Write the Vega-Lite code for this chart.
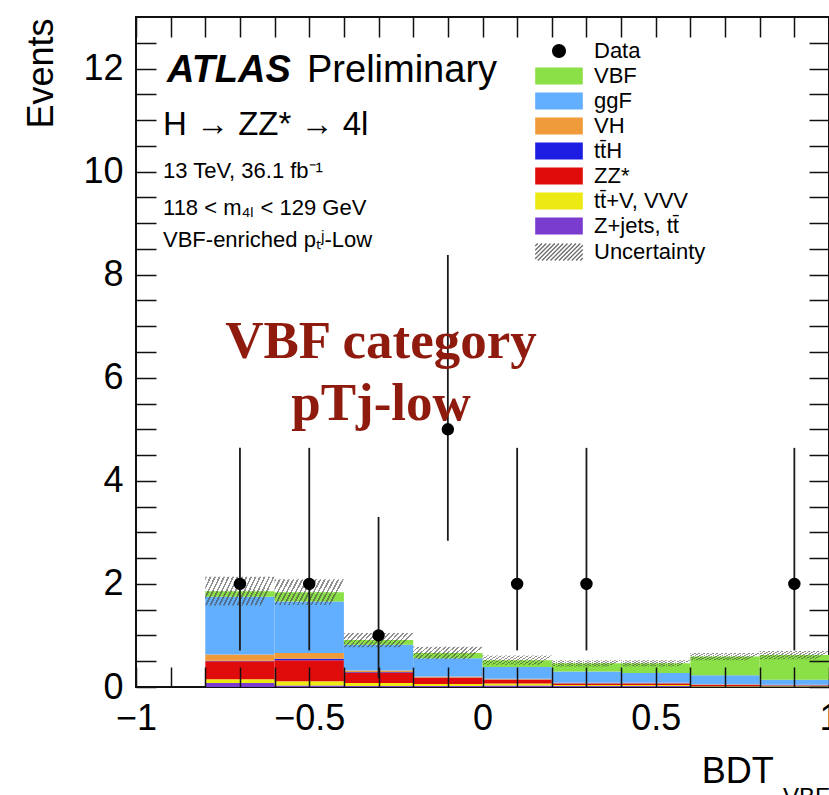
{
  "$schema": "https://vega.github.io/schema/vega-lite/v6.json",
  "width": 693,
  "height": 670,
  "autosize": {"type": "none"},
  "padding": {"left": 136, "top": 17, "right": 0, "bottom": 108},
  "background": "white",
  "config": {
    "font": "Liberation Sans",
    "view": {"stroke": "#111", "strokeWidth": 2},
    "axis": {"labelFont": "Liberation Sans", "titleFont": "Liberation Sans", "labelColor": "#000", "titleColor": "#000", "tickColor": "#111", "tickWidth": 1.5, "domain": false, "grid": false}
  },
  "resolve": {"axis": {"x": "independent", "y": "independent"}},
  "layer": [
    {
      "data": {"values": [
        {"bin_lo": -0.8, "bin_hi": -0.6, "process": "Z+jets, tt\u0304", "events": 0.08},
        {"bin_lo": -0.8, "bin_hi": -0.6, "process": "tt\u0304+V, VVV", "events": 0.07},
        {"bin_lo": -0.8, "bin_hi": -0.6, "process": "ZZ*", "events": 0.35},
        {"bin_lo": -0.8, "bin_hi": -0.6, "process": "tt\u0304H", "events": 0.01},
        {"bin_lo": -0.8, "bin_hi": -0.6, "process": "VH", "events": 0.12},
        {"bin_lo": -0.8, "bin_hi": -0.6, "process": "ggF", "events": 1.12},
        {"bin_lo": -0.8, "bin_hi": -0.6, "process": "VBF", "events": 0.11},
        {"bin_lo": -0.6, "bin_hi": -0.4, "process": "Z+jets, tt\u0304", "events": 0.03},
        {"bin_lo": -0.6, "bin_hi": -0.4, "process": "tt\u0304+V, VVV", "events": 0.08},
        {"bin_lo": -0.6, "bin_hi": -0.4, "process": "ZZ*", "events": 0.41},
        {"bin_lo": -0.6, "bin_hi": -0.4, "process": "tt\u0304H", "events": 0.03},
        {"bin_lo": -0.6, "bin_hi": -0.4, "process": "VH", "events": 0.11},
        {"bin_lo": -0.6, "bin_hi": -0.4, "process": "ggF", "events": 1.0},
        {"bin_lo": -0.6, "bin_hi": -0.4, "process": "VBF", "events": 0.18},
        {"bin_lo": -0.4, "bin_hi": -0.2, "process": "Z+jets, tt\u0304", "events": 0.02},
        {"bin_lo": -0.4, "bin_hi": -0.2, "process": "tt\u0304+V, VVV", "events": 0.06},
        {"bin_lo": -0.4, "bin_hi": -0.2, "process": "ZZ*", "events": 0.2},
        {"bin_lo": -0.4, "bin_hi": -0.2, "process": "tt\u0304H", "events": 0.01},
        {"bin_lo": -0.4, "bin_hi": -0.2, "process": "VH", "events": 0.03},
        {"bin_lo": -0.4, "bin_hi": -0.2, "process": "ggF", "events": 0.5},
        {"bin_lo": -0.4, "bin_hi": -0.2, "process": "VBF", "events": 0.09},
        {"bin_lo": -0.2, "bin_hi": 0.0, "process": "Z+jets, tt\u0304", "events": 0.02},
        {"bin_lo": -0.2, "bin_hi": 0.0, "process": "tt\u0304+V, VVV", "events": 0.04},
        {"bin_lo": -0.2, "bin_hi": 0.0, "process": "ZZ*", "events": 0.12},
        {"bin_lo": -0.2, "bin_hi": 0.0, "process": "tt\u0304H", "events": 0.005},
        {"bin_lo": -0.2, "bin_hi": 0.0, "process": "VH", "events": 0.02},
        {"bin_lo": -0.2, "bin_hi": 0.0, "process": "ggF", "events": 0.355},
        {"bin_lo": -0.2, "bin_hi": 0.0, "process": "VBF", "events": 0.1},
        {"bin_lo": 0.0, "bin_hi": 0.2, "process": "Z+jets, tt\u0304", "events": 0.03},
        {"bin_lo": 0.0, "bin_hi": 0.2, "process": "tt\u0304+V, VVV", "events": 0.04},
        {"bin_lo": 0.0, "bin_hi": 0.2, "process": "ZZ*", "events": 0.07},
        {"bin_lo": 0.0, "bin_hi": 0.2, "process": "tt\u0304H", "events": 0.005},
        {"bin_lo": 0.0, "bin_hi": 0.2, "process": "VH", "events": 0.015},
        {"bin_lo": 0.0, "bin_hi": 0.2, "process": "ggF", "events": 0.23},
        {"bin_lo": 0.0, "bin_hi": 0.2, "process": "VBF", "events": 0.13},
        {"bin_lo": 0.2, "bin_hi": 0.4, "process": "Z+jets, tt\u0304", "events": 0.02},
        {"bin_lo": 0.2, "bin_hi": 0.4, "process": "tt\u0304+V, VVV", "events": 0.02},
        {"bin_lo": 0.2, "bin_hi": 0.4, "process": "ZZ*", "events": 0.03},
        {"bin_lo": 0.2, "bin_hi": 0.4, "process": "tt\u0304H", "events": 0.003},
        {"bin_lo": 0.2, "bin_hi": 0.4, "process": "VH", "events": 0.01},
        {"bin_lo": 0.2, "bin_hi": 0.4, "process": "ggF", "events": 0.217},
        {"bin_lo": 0.2, "bin_hi": 0.4, "process": "VBF", "events": 0.16},
        {"bin_lo": 0.4, "bin_hi": 0.6, "process": "Z+jets, tt\u0304", "events": 0.02},
        {"bin_lo": 0.4, "bin_hi": 0.6, "process": "tt\u0304+V, VVV", "events": 0.02},
        {"bin_lo": 0.4, "bin_hi": 0.6, "process": "ZZ*", "events": 0.03},
        {"bin_lo": 0.4, "bin_hi": 0.6, "process": "tt\u0304H", "events": 0.002},
        {"bin_lo": 0.4, "bin_hi": 0.6, "process": "VH", "events": 0.01},
        {"bin_lo": 0.4, "bin_hi": 0.6, "process": "ggF", "events": 0.188},
        {"bin_lo": 0.4, "bin_hi": 0.6, "process": "VBF", "events": 0.19},
        {"bin_lo": 0.6, "bin_hi": 0.8, "process": "Z+jets, tt\u0304", "events": 0.01},
        {"bin_lo": 0.6, "bin_hi": 0.8, "process": "tt\u0304+V, VVV", "events": 0.01},
        {"bin_lo": 0.6, "bin_hi": 0.8, "process": "ZZ*", "events": 0.02},
        {"bin_lo": 0.6, "bin_hi": 0.8, "process": "tt\u0304H", "events": 0.002},
        {"bin_lo": 0.6, "bin_hi": 0.8, "process": "VH", "events": 0.01},
        {"bin_lo": 0.6, "bin_hi": 0.8, "process": "ggF", "events": 0.178},
        {"bin_lo": 0.6, "bin_hi": 0.8, "process": "VBF", "events": 0.36},
        {"bin_lo": 0.8, "bin_hi": 1.0, "process": "Z+jets, tt\u0304", "events": 0.01},
        {"bin_lo": 0.8, "bin_hi": 1.0, "process": "tt\u0304+V, VVV", "events": 0.01},
        {"bin_lo": 0.8, "bin_hi": 1.0, "process": "ZZ*", "events": 0.01},
        {"bin_lo": 0.8, "bin_hi": 1.0, "process": "tt\u0304H", "events": 0.002},
        {"bin_lo": 0.8, "bin_hi": 1.0, "process": "VH", "events": 0.01},
        {"bin_lo": 0.8, "bin_hi": 1.0, "process": "ggF", "events": 0.098},
        {"bin_lo": 0.8, "bin_hi": 1.0, "process": "VBF", "events": 0.48}
      ]},
      "transform": [{"stack": "events", "groupby": ["bin_lo"], "as": ["y0", "y1"]}],
      "mark": {"type": "rect"},
      "encoding": {
        "x": {"field": "bin_lo", "type": "quantitative", "scale": {"domain": [-1, 1], "nice": false, "zero": false},
              "axis": {"orient": "bottom", "values": [-1, -0.5, 0, 0.5, 1], "format": "~g", "ticks": false,
                       "labelFontSize": 36, "labelPadding": 14, "labelFlush": false, "labelOverlap": false, "labelBound": false, "title": null}},
        "x2": {"field": "bin_hi"},
        "y": {"field": "y0", "type": "quantitative", "scale": {"domain": [0, 13], "nice": false},
              "axis": {"orient": "left", "values": [0, 2, 4, 6, 8, 10, 12], "format": "d", "ticks": false,
                       "labelFontSize": 36, "labelPadding": 13, "labelOverlap": false, "labelFlush": false,
                       "title": "Events", "titleFontSize": 36, "titleFontWeight": "normal", "titleAngle": 270, "titleAlign": "right", "titleBaseline": "alphabetic", "titleX": -84, "titleY": 1}},
        "y2": {"field": "y1"},
        "color": {"field": "process", "type": "nominal",
          "scale": {"domain": ["Data", "VBF", "ggF", "VH", "tt\u0304H", "ZZ*", "tt\u0304+V, VVV", "Z+jets, tt\u0304", "Uncertainty"],
                    "range": ["#000000", "#8AE046", "#62AEFF", "#F09B3A", "#1C1CE2", "#E00B0B", "#EDEA13", "#7A3BCF", "#ffffff"]},
          "legend": {"orient": "none", "legendX": 412, "legendY": 23, "title": null, "padding": 0,
                     "symbolSize": 289, "symbolType": "M-2.8,-1H2.8V1H-2.8Z", "symbolStrokeWidth": 0, "symbolOpacity": 1,
                     "labelFont": "Liberation Sans", "labelFontSize": 22, "labelColor": "#000", "labelOffset": 24, "labelLimit": 300, "rowPadding": 3,
                     "encode": {"symbols": {"update": {
                       "shape": {"signal": "datum.value === 'Data' ? 'M-0.82,0A0.82,0.82 0 1,1 0.82,0A0.82,0.82 0 1,1 -0.82,0Z' : datum.value === 'Uncertainty' ? 'M-2.8,-0.7L-2.5,-1M-2.8,-0.2L-2,-1M-2.8,0.3L-1.5,-1M-2.8,0.8L-1,-1M-2.5,1L-0.5,-1M-2,1L0,-1M-1.5,1L0.5,-1M-1,1L1,-1M-0.5,1L1.5,-1M0,1L2,-1M0.5,1L2.5,-1M1,1L2.8,-0.8M1.5,1L2.8,-0.3M2,1L2.8,0.2M2.5,1L2.8,0.7' : 'M-2.8,-1H2.8V1H-2.8Z'"},
                       "stroke": {"signal": "datum.value === 'Uncertainty' ? '#6a6a6a' : 'transparent'"},
                       "strokeWidth": {"signal": "datum.value === 'Uncertainty' ? 1.3 : 0"}
                     }}}}
        }
      }
    },
    {
      "data": {"values": [
        {"bin_lo": -0.8, "bin_hi": -0.6, "band_lo": 1.58, "band_hi": 2.14},
        {"bin_lo": -0.6, "bin_hi": -0.4, "band_lo": 1.59, "band_hi": 2.09},
        {"bin_lo": -0.4, "bin_hi": -0.2, "band_lo": 0.77, "band_hi": 1.05},
        {"bin_lo": -0.2, "bin_hi": 0.0, "band_lo": 0.54, "band_hi": 0.78},
        {"bin_lo": 0.0, "bin_hi": 0.2, "band_lo": 0.43, "band_hi": 0.61},
        {"bin_lo": 0.2, "bin_hi": 0.4, "band_lo": 0.40, "band_hi": 0.52},
        {"bin_lo": 0.4, "bin_hi": 0.6, "band_lo": 0.40, "band_hi": 0.52},
        {"bin_lo": 0.6, "bin_hi": 0.8, "band_lo": 0.52, "band_hi": 0.66},
        {"bin_lo": 0.8, "bin_hi": 1.0, "band_lo": 0.54, "band_hi": 0.70}
      ]},
      "mark": {"type": "rect", "fill": {"gradient": "linear", "x1": 0, "y1": 0, "x2": 1, "y2": 0.2, "stops": [
        {"offset": 0, "color": "rgba(70,70,70,0.6)"}, {"offset": 0.025, "color": "rgba(70,70,70,0.6)"}, {"offset": 0.025, "color": "rgba(0,0,0,0)"}, {"offset": 0.0625, "color": "rgba(0,0,0,0)"},
        {"offset": 0.0625, "color": "rgba(70,70,70,0.6)"}, {"offset": 0.0875, "color": "rgba(70,70,70,0.6)"}, {"offset": 0.0875, "color": "rgba(0,0,0,0)"}, {"offset": 0.125, "color": "rgba(0,0,0,0)"},
        {"offset": 0.125, "color": "rgba(70,70,70,0.6)"}, {"offset": 0.15, "color": "rgba(70,70,70,0.6)"}, {"offset": 0.15, "color": "rgba(0,0,0,0)"}, {"offset": 0.1875, "color": "rgba(0,0,0,0)"},
        {"offset": 0.1875, "color": "rgba(70,70,70,0.6)"}, {"offset": 0.2125, "color": "rgba(70,70,70,0.6)"}, {"offset": 0.2125, "color": "rgba(0,0,0,0)"}, {"offset": 0.25, "color": "rgba(0,0,0,0)"},
        {"offset": 0.25, "color": "rgba(70,70,70,0.6)"}, {"offset": 0.275, "color": "rgba(70,70,70,0.6)"}, {"offset": 0.275, "color": "rgba(0,0,0,0)"}, {"offset": 0.3125, "color": "rgba(0,0,0,0)"},
        {"offset": 0.3125, "color": "rgba(70,70,70,0.6)"}, {"offset": 0.3375, "color": "rgba(70,70,70,0.6)"}, {"offset": 0.3375, "color": "rgba(0,0,0,0)"}, {"offset": 0.375, "color": "rgba(0,0,0,0)"},
        {"offset": 0.375, "color": "rgba(70,70,70,0.6)"}, {"offset": 0.4, "color": "rgba(70,70,70,0.6)"}, {"offset": 0.4, "color": "rgba(0,0,0,0)"}, {"offset": 0.4375, "color": "rgba(0,0,0,0)"},
        {"offset": 0.4375, "color": "rgba(70,70,70,0.6)"}, {"offset": 0.4625, "color": "rgba(70,70,70,0.6)"}, {"offset": 0.4625, "color": "rgba(0,0,0,0)"}, {"offset": 0.5, "color": "rgba(0,0,0,0)"},
        {"offset": 0.5, "color": "rgba(70,70,70,0.6)"}, {"offset": 0.525, "color": "rgba(70,70,70,0.6)"}, {"offset": 0.525, "color": "rgba(0,0,0,0)"}, {"offset": 0.5625, "color": "rgba(0,0,0,0)"},
        {"offset": 0.5625, "color": "rgba(70,70,70,0.6)"}, {"offset": 0.5875, "color": "rgba(70,70,70,0.6)"}, {"offset": 0.5875, "color": "rgba(0,0,0,0)"}, {"offset": 0.625, "color": "rgba(0,0,0,0)"},
        {"offset": 0.625, "color": "rgba(70,70,70,0.6)"}, {"offset": 0.65, "color": "rgba(70,70,70,0.6)"}, {"offset": 0.65, "color": "rgba(0,0,0,0)"}, {"offset": 0.6875, "color": "rgba(0,0,0,0)"},
        {"offset": 0.6875, "color": "rgba(70,70,70,0.6)"}, {"offset": 0.7125, "color": "rgba(70,70,70,0.6)"}, {"offset": 0.7125, "color": "rgba(0,0,0,0)"}, {"offset": 0.75, "color": "rgba(0,0,0,0)"},
        {"offset": 0.75, "color": "rgba(70,70,70,0.6)"}, {"offset": 0.775, "color": "rgba(70,70,70,0.6)"}, {"offset": 0.775, "color": "rgba(0,0,0,0)"}, {"offset": 0.8125, "color": "rgba(0,0,0,0)"},
        {"offset": 0.8125, "color": "rgba(70,70,70,0.6)"}, {"offset": 0.8375, "color": "rgba(70,70,70,0.6)"}, {"offset": 0.8375, "color": "rgba(0,0,0,0)"}, {"offset": 0.875, "color": "rgba(0,0,0,0)"},
        {"offset": 0.875, "color": "rgba(70,70,70,0.6)"}, {"offset": 0.9, "color": "rgba(70,70,70,0.6)"}, {"offset": 0.9, "color": "rgba(0,0,0,0)"}, {"offset": 0.9375, "color": "rgba(0,0,0,0)"},
        {"offset": 0.9375, "color": "rgba(70,70,70,0.6)"}, {"offset": 0.9625, "color": "rgba(70,70,70,0.6)"}, {"offset": 0.9625, "color": "rgba(0,0,0,0)"}, {"offset": 1, "color": "rgba(0,0,0,0)"}
      ]}},
      "encoding": {
        "x": {"field": "bin_lo", "type": "quantitative", "scale": {"domain": [-1, 1], "nice": false, "zero": false}, "axis": null},
        "x2": {"field": "bin_hi"},
        "y": {"field": "band_lo", "type": "quantitative", "scale": {"domain": [0, 13], "nice": false},
              "axis": {"orient": "right", "values": [0, 0.5, 1, 1.5, 2, 2.5, 3, 3.5, 4, 4.5, 5, 5.5, 6, 6.5, 7, 7.5, 8, 8.5, 9, 9.5, 10, 10.5, 11, 11.5, 12, 12.5],
                       "ticks": true, "tickSize": 20, "offset": -693, "zindex": 1, "labels": false, "title": null,
                       "encoding": {"ticks": {"update": {"x2": {"signal": "datum.value % 2 === 0 ? 20 : 10"}}}}}},
        "y2": {"field": "band_hi"}
      }
    },
    {
      "data": {"name": "obs", "values": [
        {"bdt": -0.7, "events": 2, "err_lo": 0.71, "err_hi": 4.64},
        {"bdt": -0.5, "events": 2, "err_lo": 0.71, "err_hi": 4.64},
        {"bdt": -0.3, "events": 1, "err_lo": 0.17, "err_hi": 3.30},
        {"bdt": -0.1, "events": 5, "err_lo": 2.84, "err_hi": 8.38},
        {"bdt": 0.1, "events": 2, "err_lo": 0.71, "err_hi": 4.64},
        {"bdt": 0.3, "events": 2, "err_lo": 0.71, "err_hi": 4.64},
        {"bdt": 0.9, "events": 2, "err_lo": 0.71, "err_hi": 4.64}
      ]},
      "mark": {"type": "rule", "color": "#1a1a1a", "strokeWidth": 1.8},
      "encoding": {
        "x": {"field": "bdt", "type": "quantitative", "scale": {"domain": [-1, 1], "nice": false, "zero": false}, "axis": null},
        "y": {"field": "err_lo", "type": "quantitative", "scale": {"domain": [0, 13], "nice": false}, "axis": null},
        "y2": {"field": "err_hi"}
      }
    },
    {
      "data": {"name": "obs"},
      "mark": {"type": "circle", "color": "#000", "opacity": 1, "size": 154},
      "encoding": {
        "x": {"field": "bdt", "type": "quantitative", "scale": {"domain": [-1, 1], "nice": false, "zero": false},
              "axis": {"orient": "bottom", "values": [-1, -0.9, -0.8, -0.7, -0.6, -0.5, -0.4, -0.3, -0.2, -0.1, 0, 0.1, 0.2, 0.3, 0.4, 0.5, 0.6, 0.7, 0.8, 0.9, 1],
                       "ticks": true, "tickSize": 20, "offset": -670, "zindex": 1, "labels": false, "title": null,
                       "encoding": {"ticks": {"update": {"y2": {"signal": "abs(datum.value*2 - round(datum.value*2)) < 0.001 ? 20 : 10"}}}}}},
        "y": {"field": "events", "type": "quantitative", "scale": {"domain": [0, 13], "nice": false},
              "axis": {"orient": "right", "values": [0, 0.5, 1, 1.5, 2, 2.5, 3, 3.5, 4, 4.5, 5, 5.5, 6, 6.5, 7, 7.5, 8, 8.5, 9, 9.5, 10, 10.5, 11, 11.5, 12, 12.5],
                       "ticks": true, "tickSize": 20, "offset": -20, "zindex": 1, "labels": false, "title": null,
                       "encoding": {"ticks": {"update": {"x": {"signal": "datum.value % 2 === 0 ? 0 : 10"}}}}}}
      }
    },
    {
      "data": {"values": [{"x": -0.9105, "y": 11.74, "label": "ATLAS"}]},
      "mark": {"type": "text", "align": "left", "baseline": "alphabetic", "font": "Liberation Sans", "fontSize": 38, "fontStyle": "italic", "fontWeight": "bold", "color": "#000"},
      "encoding": {
        "x": {"field": "x", "type": "quantitative", "scale": {"domain": [-1, 1], "nice": false, "zero": false}, "axis": null},
        "y": {"field": "y", "type": "quantitative", "scale": {"domain": [0, 13], "nice": false}, "axis": null},
        "text": {"field": "label"}
      }
    },
    {
      "data": {"values": [{"x": -0.5065, "y": 11.74, "label": "Preliminary"}]},
      "mark": {"type": "text", "align": "left", "baseline": "alphabetic", "font": "Liberation Sans", "fontSize": 38, "color": "#000"},
      "encoding": {
        "x": {"field": "x", "type": "quantitative", "scale": {"domain": [-1, 1], "nice": false, "zero": false}, "axis": null},
        "y": {"field": "y", "type": "quantitative", "scale": {"domain": [0, 13], "nice": false}, "axis": null},
        "text": {"field": "label"}
      }
    },
    {
      "data": {"values": [{"x": -0.922, "y": 10.71, "label": "H \u2192 ZZ* \u2192 4l"}]},
      "mark": {"type": "text", "align": "left", "baseline": "alphabetic", "font": "Liberation Sans", "fontSize": 33, "color": "#000"},
      "encoding": {
        "x": {"field": "x", "type": "quantitative", "scale": {"domain": [-1, 1], "nice": false, "zero": false}, "axis": null},
        "y": {"field": "y", "type": "quantitative", "scale": {"domain": [0, 13], "nice": false}, "axis": null},
        "text": {"field": "label"}
      }
    },
    {
      "data": {"values": [
        {"x": -0.922, "y": 9.88, "label": "13 TeV, 36.1 fb\u207b\u00b9"},
        {"x": -0.922, "y": 9.16, "label": "118 < m\u2084\u2097 < 129 GeV"},
        {"x": -0.922, "y": 8.54, "label": "VBF-enriched p\u209c\u02b2-Low"}
      ]},
      "mark": {"type": "text", "align": "left", "baseline": "alphabetic", "font": "Liberation Sans", "fontSize": 22, "color": "#000"},
      "encoding": {
        "x": {"field": "x", "type": "quantitative", "scale": {"domain": [-1, 1], "nice": false, "zero": false}, "axis": null},
        "y": {"field": "y", "type": "quantitative", "scale": {"domain": [0, 13], "nice": false}, "axis": null},
        "text": {"field": "label"}
      }
    },
    {
      "data": {"values": [
        {"x": -0.293, "y": 6.38, "label": "VBF category"},
        {"x": -0.293, "y": 5.18, "label": "pTj-low"}
      ]},
      "mark": {"type": "text", "align": "center", "baseline": "alphabetic", "font": "Liberation Serif", "fontSize": 53, "fontWeight": "bold", "color": "#8f1b0e"},
      "encoding": {
        "x": {"field": "x", "type": "quantitative", "scale": {"domain": [-1, 1], "nice": false, "zero": false}, "axis": null},
        "y": {"field": "y", "type": "quantitative", "scale": {"domain": [0, 13], "nice": false}, "axis": null},
        "text": {"field": "label"}
      }
    },
    {
      "data": {"values": [{"x": 0.633, "y": -1.86, "label": "BDT"}]},
      "mark": {"type": "text", "align": "left", "baseline": "alphabetic", "font": "Liberation Sans", "fontSize": 36, "color": "#000"},
      "encoding": {
        "x": {"field": "x", "type": "quantitative", "scale": {"domain": [-1, 1], "nice": false, "zero": false}, "axis": null},
        "y": {"field": "y", "type": "quantitative", "scale": {"domain": [0, 13], "nice": false}, "axis": null},
        "text": {"field": "label"}
      }
    },
    {
      "data": {"values": [{"x": 0.867, "y": -2.29, "label": "VBF"}]},
      "mark": {"type": "text", "align": "left", "baseline": "alphabetic", "font": "Liberation Sans", "fontSize": 24, "color": "#000"},
      "encoding": {
        "x": {"field": "x", "type": "quantitative", "scale": {"domain": [-1, 1], "nice": false, "zero": false},
              "axis": {"orient": "bottom", "values": [-1, -0.9, -0.8, -0.7, -0.6, -0.5, -0.4, -0.3, -0.2, -0.1, 0, 0.1, 0.2, 0.3, 0.4, 0.5, 0.6, 0.7, 0.8, 0.9, 1],
                       "ticks": true, "tickSize": 20, "offset": -20, "zindex": 2, "labels": false, "title": null,
                       "encoding": {"ticks": {"update": {"y": {"signal": "abs(datum.value*2 - round(datum.value*2)) < 0.001 ? 0 : 10"}}}}}},
        "y": {"field": "y", "type": "quantitative", "scale": {"domain": [0, 13], "nice": false}, "axis": null},
        "text": {"field": "label"}
      }
    }
  ]
}
